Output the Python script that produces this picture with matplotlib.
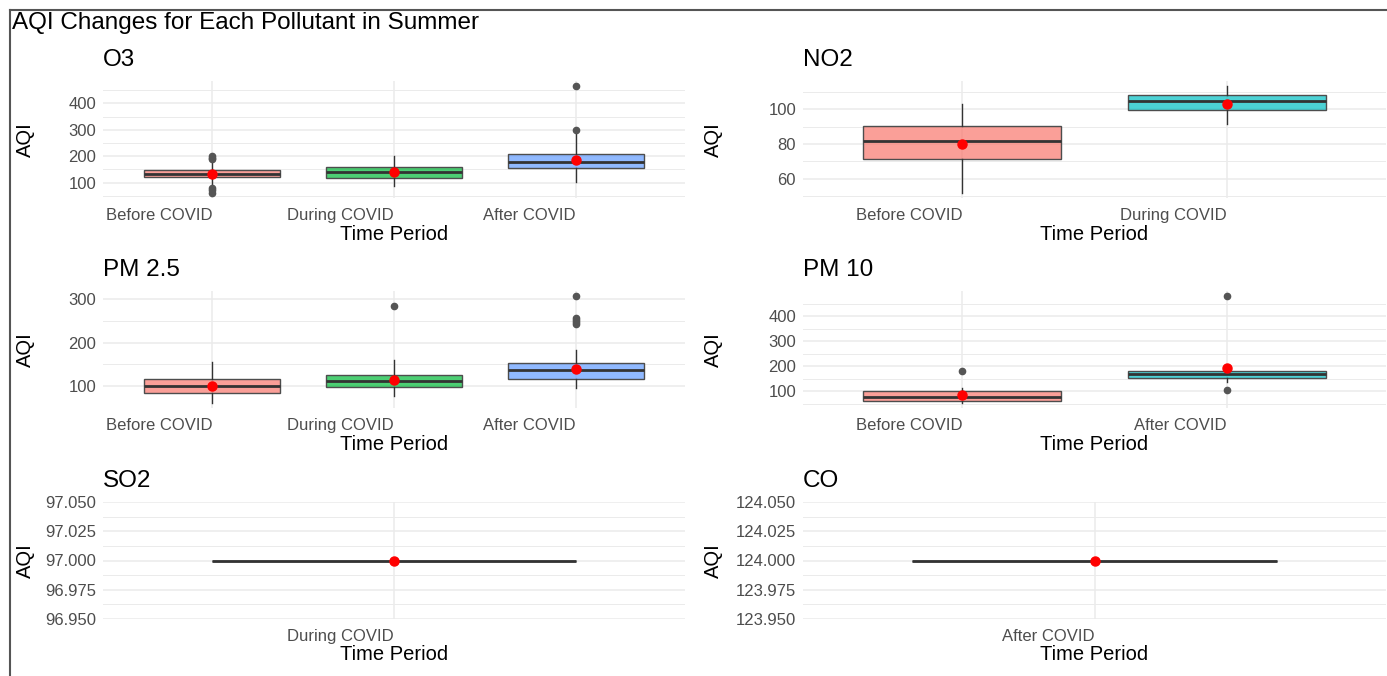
import matplotlib
matplotlib.use('Agg')
import matplotlib.pyplot as plt
from matplotlib.ticker import MultipleLocator, FormatStrFormatter
from matplotlib.colors import to_rgba
from matplotlib.lines import Line2D

plt.rcParams['font.family'] = ['Liberation Sans', 'DejaVu Sans']

## DATA
hue3 = ['#F8766D', '#00BA38', '#619CFF']
hue2 = ['#F8766D', '#00BFC4']

o3_periods = ['Before COVID', 'During COVID', 'After COVID']
o3_q1 = [121, 117, 155]
o3_med = [134, 141, 180]
o3_q3 = [148, 160, 210]
o3_lo = [88, 88, 103]
o3_hi = [181, 200, 285]
o3_mean = [131, 140, 187]
o3_out = [[200, 195, 190, 81, 72, 62], [], [300, 465]]

no2_periods = ['Before COVID', 'During COVID']
no2_q1 = [71.2, 99.4]
no2_med = [81.9, 104.8]
no2_q3 = [90.3, 108.0]
no2_lo = [51.8, 91.4]
no2_hi = [102.9, 113.3]
no2_mean = [80.0, 103.2]
no2_out = [[], []]

pm25_periods = ['Before COVID', 'During COVID', 'After COVID']
pm25_q1 = [84.6, 98.5, 115.4]
pm25_med = [100.8, 112, 137.7]
pm25_q3 = [116, 125.4, 153]
pm25_lo = [61.5, 76, 96]
pm25_hi = [154.6, 159, 184]
pm25_mean = [100, 113.8, 139]
pm25_out = [[], [284.6], [307, 256, 252, 247, 243]]

pm10_periods = ['Before COVID', 'After COVID']
pm10_q1 = [60.7, 152.7]
pm10_med = [76.7, 170]
pm10_q3 = [99, 182]
pm10_lo = [54, 136]
pm10_hi = [114, 195]
pm10_mean = [86, 191.3]
pm10_out = [[182], [102.7, 478.7]]

so2_periods = ['During COVID']
so2_value = [97]

co_periods = ['After COVID']
co_value = [124]

W, H = 1387, 676
fig = plt.figure(figsize=(W / 100, H / 100), dpi=100)


def rect(x0, y0, x1, y1):
    return [x0 / W, 1 - y1 / H, (x1 - x0) / W, (y1 - y0) / H]


def draw_panel(ax, periods, q1, med, q3, lo, hi, means, outliers, colors, step):
    pos = list(range(1, len(periods) + 1))
    stats = []
    for i in range(len(periods)):
        stats.append(dict(med=med[i], q1=q1[i], q3=q3[i],
                          whislo=lo[i], whishi=hi[i], fliers=outliers[i]))
    bp = ax.bxp(stats, positions=pos, widths=0.75, patch_artist=True,
                showcaps=False, manage_ticks=False,
                boxprops=dict(edgecolor='#4d4d4d', linewidth=1.0),
                medianprops=dict(color='#333333', linewidth=2.0),
                whiskerprops=dict(color='#333333', linewidth=1.0),
                flierprops=dict(marker='o', markerfacecolor='#555555',
                                markeredgecolor='#555555', markersize=4.5))
    for patch, c in zip(bp['boxes'], colors):
        patch.set_facecolor(to_rgba(c, 0.7))
    ax.plot(pos, means, 'o', color='red', markersize=6.5, zorder=5)
    ax.set_xlim(0.4, len(periods) + 0.6)
    ax.set_xticks(pos)
    ax.set_xticklabels(periods, ha='right')
    ax.yaxis.set_major_locator(MultipleLocator(step))
    ax.yaxis.set_minor_locator(MultipleLocator(step / 2))
    ax.grid(which='major', color='#EBEBEB', lw=1.1)
    ax.grid(which='minor', axis='y', color='#EBEBEB', lw=0.7)
    ax.set_axisbelow(True)
    for s in ax.spines.values():
        s.set_visible(False)
    ax.tick_params(which='both', length=0, labelsize=12, labelcolor='#4D4D4D')
    ax.tick_params(axis='x', pad=7)
    ax.tick_params(axis='y', pad=5)


cols = [(103, 685), (803, 1386)]
rows = [(81, 198), (291, 408), (502, 619)]

panels = [
    ('O3', 0, 0, o3_periods, o3_q1, o3_med, o3_q3, o3_lo, o3_hi, o3_mean, o3_out, hue3, 100),
    ('NO2', 0, 1, no2_periods, no2_q1, no2_med, no2_q3, no2_lo, no2_hi, no2_mean, no2_out, hue2, 20),
    ('PM 2.5', 1, 0, pm25_periods, pm25_q1, pm25_med, pm25_q3, pm25_lo, pm25_hi, pm25_mean, pm25_out, hue3, 100),
    ('PM 10', 1, 1, pm10_periods, pm10_q1, pm10_med, pm10_q3, pm10_lo, pm10_hi, pm10_mean, pm10_out, hue2, 100),
    ('SO2', 2, 0, so2_periods, so2_value, so2_value, so2_value, so2_value, so2_value, so2_value, [[]], hue3[:1], 0.025),
    ('CO', 2, 1, co_periods, co_value, co_value, co_value, co_value, co_value, co_value, [[]], hue3[:1], 0.025),
]

for p in panels:
    title, r, c = p[0], p[1], p[2]
    x0, x1 = cols[c]
    y0, y1 = rows[r]
    ax = fig.add_axes(rect(x0, y0, x1, y1))
    draw_panel(ax, *p[3:])
    if r == 2:
        v = p[4][0]
        ax.set_ylim(v - 0.05, v + 0.05)
        ax.yaxis.set_major_formatter(FormatStrFormatter('%.3f'))
    fig.text(x0 / W, 1 - (y0 - 21) / H, title, fontsize=17.5, va='center', ha='left')
    fig.text((x0 + x1) / 2 / W, 1 - (y1 + 36) / H, 'Time Period', fontsize=14.5,
             va='center', ha='center')
    fig.text((25 if c == 0 else 713) / W, 1 - (y0 + y1) / 2 / H, 'AQI', fontsize=14.5,
             rotation=90, va='center', ha='center')

fig.text(12 / W, 1 - 29.5 / H, 'AQI Changes for Each Pollutant in Summer', fontsize=17.5,
         va='baseline', ha='left')

# frame lines of the screenshot
fig.add_artist(Line2D([10 / W, 1], [1 - 10 / H, 1 - 10 / H], color='#555555', lw=1.5,
                      transform=fig.transFigure))
fig.add_artist(Line2D([10 / W, 10 / W], [0, 1 - 10 / H], color='#555555', lw=1.5,
                      transform=fig.transFigure))

fig.savefig('out.png', dpi=100)
